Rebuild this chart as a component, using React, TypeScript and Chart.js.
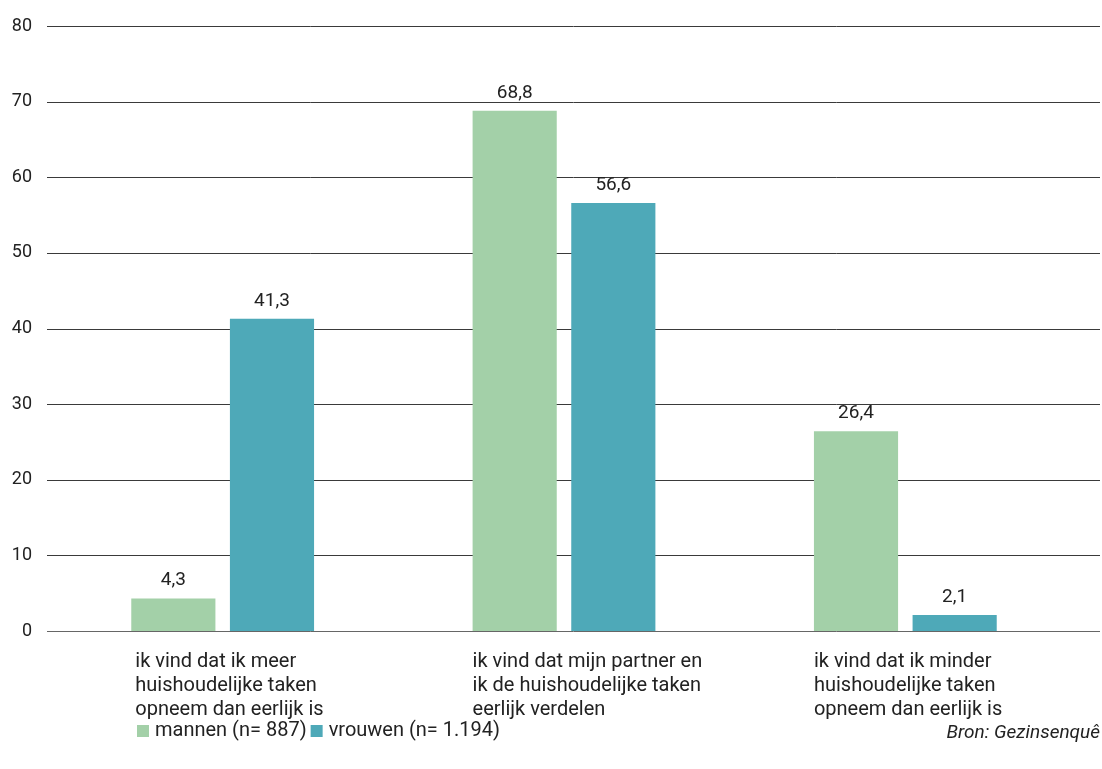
import React, { useEffect, useRef } from "react";
import { Chart, registerables } from "chart.js";

Chart.register(...registerables);

const categories: string[][] = [
  ["ik vind dat ik meer", "huishoudelijke taken", "opneem dan eerlijk is"],
  ["ik vind dat mijn partner en", "ik de huishoudelijke taken", "eerlijk verdelen"],
  ["ik vind dat ik minder", "huishoudelijke taken", "opneem dan eerlijk is"],
];
const mannen: number[] = [4.3, 68.8, 26.4];
const vrouwen: number[] = [41.3, 56.6, 2.1];
const seriesNames: string[] = ["mannen (n= 887)", "vrouwen (n= 1.194)"];
const yTicks: number[] = [0, 10, 20, 30, 40, 50, 60, 70, 80];
const sourceText = "Bron: Gezinsenquê";

const GREEN = "#a3d0a8";
const TEAL = "#4ea9b8";
const FONT = "Roboto, 'Noto Sans', sans-serif";

const decorPlugin = {
  id: "decor",
  beforeDatasetsDraw(chart: any) {
    const ctx = chart.ctx;
    const y = chart.scales.y;
    ctx.save();
    ctx.lineWidth = 1;
    yTicks.forEach((t) => {
      const py = Math.round(y.getPixelForValue(t)) + 0.5;
      ctx.strokeStyle = t === 0 ? "#666" : "#3a3a3a";
      ctx.beginPath();
      ctx.moveTo(47, py);
      ctx.lineTo(1100, py);
      ctx.stroke();
    });
    ctx.restore();
  },
  afterDraw(chart: any) {
    const ctx = chart.ctx;
    ctx.save();
    // value labels
    ctx.font = `19px ${FONT}`;
    ctx.fillStyle = "#222";
    ctx.textAlign = "center";
    ctx.textBaseline = "alphabetic";
    chart.data.datasets.forEach((ds: any, di: number) => {
      const meta = chart.getDatasetMeta(di);
      meta.data.forEach((bar: any, i: number) => {
        const v = ds.data[i];
        ctx.fillText(String(v).replace(".", ","), bar.x, bar.y - 13);
      });
    });
    // category labels
    ctx.font = `20px ${FONT}`;
    ctx.textAlign = "left";
    ctx.textBaseline = "middle";
    const meta0 = chart.getDatasetMeta(0);
    categories.forEach((lines, i) => {
      const bar = meta0.data[i];
      const left = bar.x - bar.width / 2 + (i === 0 ? 4 : 0);
      lines.forEach((ln, k) => {
        ctx.fillText(ln, left, 662 + k * 24);
      });
    });
    // legend
    let lx = 137;
    const ly = 731;
    [GREEN, TEAL].forEach((c, i) => {
      ctx.fillStyle = c;
      ctx.fillRect(lx, ly - 6, 12, 12);
      lx += 18;
      ctx.fillStyle = "#222";
      ctx.fillText(seriesNames[i], lx, ly);
      lx += ctx.measureText(seriesNames[i]).width + 4;
    });
    // source
    ctx.font = `italic 19px ${FONT}`;
    ctx.textAlign = "right";
    ctx.fillText(sourceText, 1100, 733);
    ctx.restore();
  },
};

export default function App() {
  const ref = useRef<HTMLCanvasElement>(null);
  useEffect(() => {
    if (!ref.current) return;
    const chart = new Chart(ref.current, {
      type: "bar",
      data: {
        labels: categories.map((c) => c.join(" ")),
        datasets: [
          { label: seriesNames[0], data: mannen, backgroundColor: GREEN },
          { label: seriesNames[1], data: vrouwen, backgroundColor: TEAL },
        ],
      },
      options: {
        animation: false,
        responsive: false,
        layout: { padding: { left: 0, right: 26, top: 26, bottom: 138 } },
        datasets: {
          bar: { categoryPercentage: 0.578, barPercentage: 0.853 },
        } as any,
        plugins: {
          legend: { display: false },
          tooltip: { enabled: false },
        },
        scales: {
          x: { display: false },
          y: {
            min: 0,
            max: 80,
            ticks: {
              stepSize: 10,
              padding: 20,
              color: "#222",
              font: { family: FONT, size: 18 },
            },
            grid: { display: false, drawTicks: false },
            border: { display: false },
            afterFit: (s: any) => {
              s.width = 52;
              s.paddingTop = 0;
              s.paddingBottom = 0;
            },
          },
        },
      },
      plugins: [decorPlugin],
    });
    return () => chart.destroy();
  }, []);
  return (
    <div style={{ position: "fixed", left: 0, top: 0, width: 1102, height: 769, background: "#fff" }}>
      <canvas ref={ref} width={1102} height={769} style={{ display: "block" }} />
    </div>
  );
}
